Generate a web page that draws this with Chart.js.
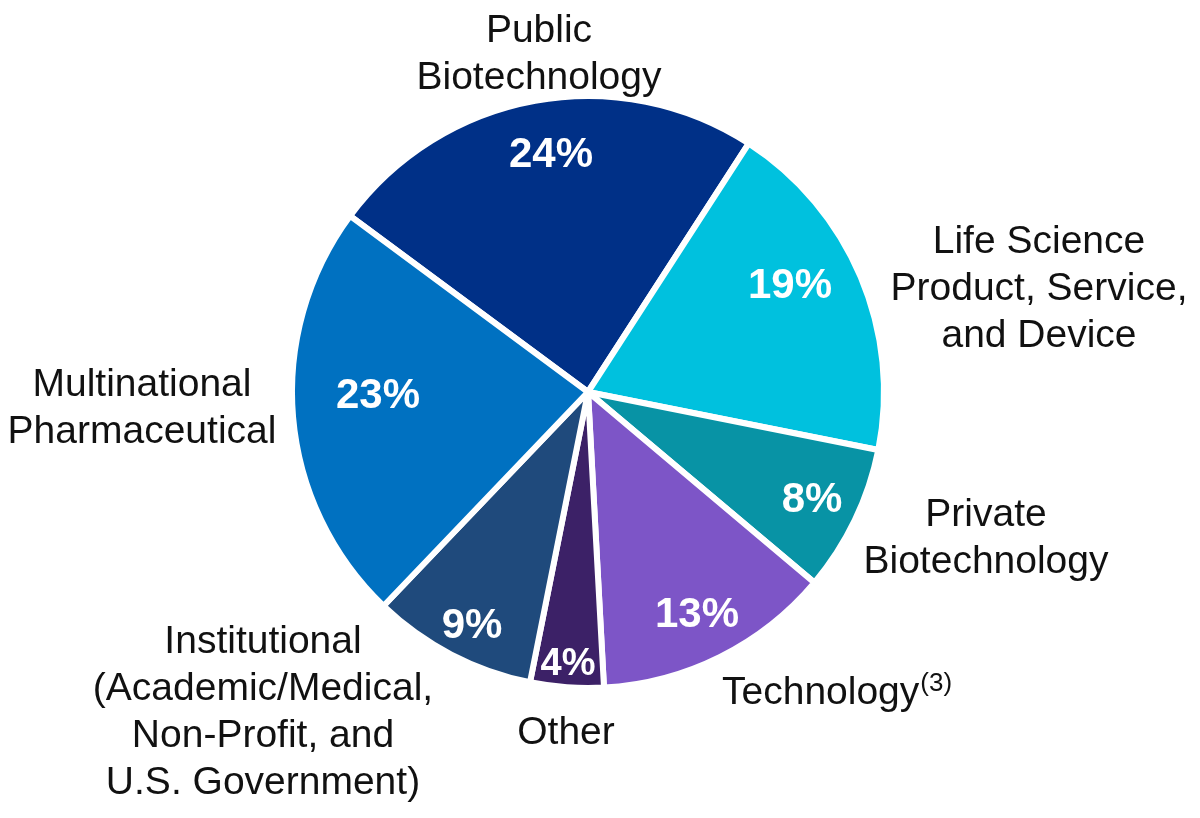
<!DOCTYPE html>
<html>
<head>
<meta charset="utf-8">
<script src="https://cdn.jsdelivr.net/npm/chart.js@4"></script>
<style>
html,body{margin:0;padding:0;background:#fff;}
#wrap{width:1200px;height:818px;position:relative;}
</style>
</head>
<body>
<div id="wrap"><canvas id="c" width="1200" height="818"></canvas></div>
<script>
// ---- data ----
const categories = [
  ["Public", "Biotechnology"],
  ["Life Science", "Product, Service,", "and Device"],
  ["Private", "Biotechnology"],
  ["Technology"],
  ["Other"],
  ["Institutional", "(Academic/Medical,", "Non-Profit, and", "U.S. Government)"],
  ["Multinational", "Pharmaceutical"]
];
const shares = [24, 19, 8, 13, 4, 9, 23];
const superscripts = ["", "", "", "(3)", "", "", ""];
const sliceColors = ["#003087", "#00C1DE", "#0893A5", "#7D55C7", "#3C2167", "#1F4A7C", "#0071C1"];

// ---- layout (offsets from pie centre, px) ----
const pctOffsets = [[-37,-225],[202,-94],[224,120],[109,235],[-20,283],[-116,246],[-210,16]];
const pctSizes = [42,42,42,42,38,42,42];
const labelOffsets = [[-49,-350],[451,-139],[398,134],[134,312],[-22,352],[-325,261],[-446,4]];
const labelAlign = ["center","center","center","left","center","center","center"];
const LINE_H = 47;

const labelPlugin = {
  id: 'labelPlugin',
  afterDatasetsDraw(chart) {
    const ctx = chart.ctx;
    const meta = chart.getDatasetMeta(0);
    ctx.save();
    meta.data.forEach((arc, i) => {
      const cx = arc.x, cy = arc.y;
      // percentage inside
      ctx.fillStyle = '#ffffff';
      ctx.font = 'bold ' + pctSizes[i] + 'px "Liberation Sans", Arial, sans-serif';
      ctx.textAlign = 'center';
      ctx.textBaseline = 'alphabetic';
      ctx.fillText(shares[i] + '%', cx + pctOffsets[i][0], cy + pctOffsets[i][1]);
      // outside category label
      ctx.fillStyle = '#111111';
      ctx.font = '39px "Liberation Sans", Arial, sans-serif';
      ctx.textAlign = labelAlign[i];
      const lx = cx + labelOffsets[i][0];
      const ly = cy + labelOffsets[i][1];
      categories[i].forEach((line, j) => {
        ctx.fillText(line, lx, ly + j * LINE_H);
      });
      if (superscripts[i]) {
        const last = categories[i][categories[i].length - 1];
        const w = ctx.measureText(last).width;
        let sx = lx;
        if (labelAlign[i] === 'center') sx = lx + w / 2;
        else sx = lx + w;
        ctx.font = '26px "Liberation Sans", Arial, sans-serif';
        ctx.textAlign = 'left';
        ctx.fillText(superscripts[i], sx + 1, ly + (categories[i].length - 1) * LINE_H - 13);
      }
    });
    ctx.restore();
  }
};

new Chart(document.getElementById('c'), {
  type: 'pie',
  data: {
    labels: categories.map(c => c.join(' ')),
    datasets: [{
      data: shares,
      backgroundColor: sliceColors,
      borderColor: '#ffffff',
      borderWidth: 6,
      hoverOffset: 0
    }]
  },
  options: {
    responsive: false,
    animation: false,
    rotation: -53.5,
    radius: 296,
    layout: { padding: { left: 0, right: 24, top: 0, bottom: 34 } },
    plugins: { legend: { display: false }, tooltip: { enabled: false } }
  },
  plugins: [labelPlugin]
});
</script>
</body>
</html>
